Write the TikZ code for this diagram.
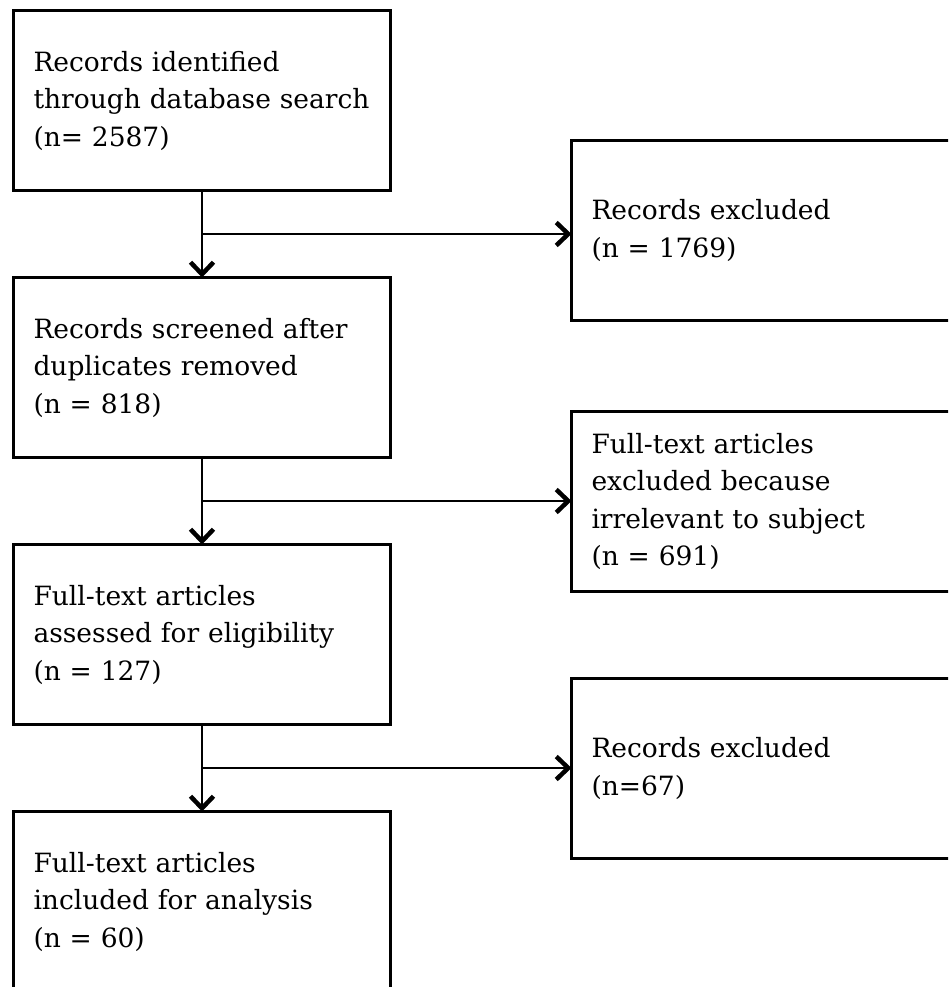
\documentclass[tikz,border=0pt]{standalone}
\usepackage{fontspec}
\setmainfont{DejaVu Serif}
\usetikzlibrary{positioning}
\usetikzlibrary{arrows.meta}

\tikzset{
    box/.style={draw, line width=2.6pt, minimum width=377pt, minimum height=180pt, text width=337pt, inner xsep=20pt, align=left, outer sep=0pt, font=\fontsize{26.5}{37.5}\selectfont},
    rbox/.style={box, minimum width=392pt, text width=352pt},
    conn/.style={line width=1.8pt, -{Straight Barb[length=12pt, width=23pt, line width=4.5pt]}}
}

\begin{document}
\begin{tikzpicture}[node distance=87pt]

    \useasboundingbox (0,0) rectangle (948pt,-987pt);
    \clip (0,0) rectangle (948pt,-987pt);

    \node(B1)[box] at (202pt,-100.5pt) {Records identified\\through database search\\(n= 2587)};
    \node(B2)[box, below=of B1]{Records screened after\\duplicates removed\\(n = 818)};
    \node(B3)[box, below=of B2]{Full-text articles\\assessed for eligibility\\(n = 127)};
    \node(B4)[box, below=of B3]{Full-text articles\\included for analysis\\(n = 60)};

    \node(R1)[rbox, below right=130pt and 181pt of B1.north east]{Records excluded\\(n = 1769)};
    \node(R2)[rbox, below right=134pt and 181pt of B2.north east]{Full-text articles\\excluded because\\irrelevant to subject\\(n = 691)};
    \node(R3)[rbox, below right=134pt and 181pt of B3.north east]{Records excluded\\(n=67)};

    \coordinate[below=43.5pt of B1.south](J1);
    \coordinate[below=43.5pt of B2.south](J2);
    \coordinate[below=43.5pt of B3.south](J3);

    \draw[conn] (B1) -- (B2);
    \draw[conn] (B2) -- (B3);
    \draw[conn] (B3) -- (B4);
    \draw[conn] (J1) -- (J1 -| R1.west);
    \draw[conn] (J2) -- (J2 -| R2.west);
    \draw[conn] (J3) -- (J3 -| R3.west);

\end{tikzpicture}
\end{document}
